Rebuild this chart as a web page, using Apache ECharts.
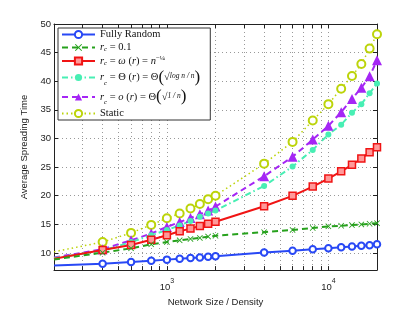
<!DOCTYPE html>
<html><head><meta charset="utf-8">
<script src="https://cdn.jsdelivr.net/npm/echarts@6/dist/echarts.min.js"></script>
<style>html,body{margin:0;padding:0;background:#fff}#c{width:415px;height:312px}</style>
</head><body><div id="c"></div>
<script>
const xValues = [200,400,600,800,1000,1200,1400,1600,1800,2000,4000,6000,8000,10000,12000,14000,16000,18000,20000];
const fullyRandom = [7.8,8.13,8.42,8.64,8.83,8.98,9.1,9.22,9.32,9.42,10.08,10.4,10.66,10.83,10.99,11.12,11.25,11.36,11.52];
const rc01 = [8.85,10.05,10.8,11.5,11.9,12.2,12.45,12.63,12.85,13.0,13.63,14.02,14.36,14.64,14.75,14.87,14.98,15.1,15.2];
const omegaR = [9.0,10.5,11.4,12.3,13.1,13.8,14.25,14.7,15.1,15.45,18.15,19.97,21.6,23.0,24.26,25.4,26.5,27.6,28.45];
const thetaR = [9.1,10.4,11.9,13.1,14.0,14.8,15.6,16.3,16.9,17.4,21.7,25.1,28.0,30.7,32.4,34.5,36.0,37.9,39.6];
const littleO = [9.2,10.65,12.2,13.4,14.55,15.4,16.1,16.75,17.4,18.1,23.4,26.8,29.8,32.2,34.6,36.9,38.85,40.85,43.65];
const staticS = [10.2,11.9,13.5,14.9,16.05,16.9,17.75,18.55,19.4,20.0,25.6,29.4,33.15,36.0,38.7,40.9,43.0,45.7,48.2];
const xTicks = [300,400,500,600,700,800,900,1000,2000,3000,4000,5000,6000,7000,8000,9000,10000];
const xLabelTicks = [1000,10000];
const names = ['Fully Random','r_c = 0.1','r_c = ω(r)','r_c = Θ(r)','r_c = o(r)','Static'];

function mk(vals){
  return xValues.map((x,i)=> i===0 ? {value:[x,vals[i]], symbol:'none'} : [x,vals[i]]);
}
const xSymbol = 'path://M1,0 L5,4 L9,0 L10,1 L6,5 L10,9 L9,10 L5,6 L1,10 L0,9 L4,5 L0,1 Z';

const legendFmt = {
  'Fully Random':'{t|Fully Random}',
  'r_c = 0.1':'{i|r}{sub|c}{t| = 0.1}',
  'r_c = ω(r)':'{i|r}{sub|c}{t| = }{i|ω}{t| (}{i|r}{t|) = }{i|n}{sup|−¼}',
  'r_c = Θ(r)':'{i|r}{sub|c}{t| = Θ (}{i|r}{t|) = Θ}{big|(}{t|√}{fr|log n / n}{big|)}',
  'r_c = o(r)':'{i|r}{sub|c}{t| = }{i|o}{t| (}{i|r}{t|) = Θ}{big|(}{t|√}{fr|1 / n}{big|)}',
  'Static':'{t|Static}'
};

const chart = echarts.init(document.getElementById('c'), null, {renderer:'canvas'});
const axisCol = '#222';
chart.setOption({
  backgroundColor:'#fff',
  animation:false,
  grid:{left:54, right:38, top:24, bottom:35},
  legend:{
    orient:'vertical', left:58, top:28,
    padding:[1,10,1,3], itemGap:2, itemWidth:33, itemHeight:9,
    backgroundColor:'#fff', borderColor:'#333', borderWidth:1,
    data:names,
    formatter:n=>legendFmt[n],
    textStyle:{
      fontFamily:'Liberation Serif', fontSize:10.5, color:'#111',
      rich:{
        t:{fontFamily:'Liberation Serif', fontSize:10.5, lineHeight:11, color:'#111'},
        i:{fontFamily:'Liberation Serif', fontStyle:'italic', fontSize:10.5, lineHeight:11, color:'#111'},
        sub:{fontFamily:'Liberation Serif', fontStyle:'italic', fontSize:7, lineHeight:11, verticalAlign:'bottom', padding:[4,0,0,0], color:'#111'},
        sup:{fontFamily:'Liberation Serif', fontSize:7, lineHeight:11, padding:[0,0,5,0], color:'#111'},
        big:{fontFamily:'Liberation Serif', fontSize:17, lineHeight:18, color:'#111'},
        fr:{fontFamily:'Liberation Serif', fontStyle:'italic', fontSize:7.5, lineHeight:11, padding:[0,0,2,0], color:'#111'}
      }
    }
  },
  xAxis:[{
    type:'log', logBase:10, min:200, max:20000,
    name:'Network Size / Density', nameLocation:'middle', nameGap:19,
    nameTextStyle:{fontFamily:'Liberation Sans', fontSize:9.5, color:'#222'},
    axisLine:{lineStyle:{color:axisCol, width:1}},
    axisTick:{inside:true, length:4, customValues:xTicks, lineStyle:{color:axisCol}},
    axisLabel:{customValues:xLabelTicks, margin:7,
      formatter:v=>'{b|10}{s|'+Math.round(Math.log10(v))+'}',
      rich:{b:{fontFamily:'Liberation Sans', fontSize:9.5, color:'#222', verticalAlign:'bottom', padding:[4,0,0,0]},
            s:{fontFamily:'Liberation Sans', fontSize:7, color:'#222', verticalAlign:'bottom', padding:[0,0,8,0]}}},
    splitLine:{show:true, lineStyle:{color:'#999', type:[1,3], width:1}}
  },{
    type:'log', logBase:10, min:200, max:20000, position:'top',
    axisLine:{show:true, lineStyle:{color:axisCol, width:1}},
    axisTick:{inside:true, length:4, customValues:xTicks, lineStyle:{color:axisCol}},
    axisLabel:{show:false}, splitLine:{show:false}
  }],
  yAxis:[{
    type:'value', min:7, max:50, splitNumber:9,
    name:'Average Spreading Time', nameLocation:'middle', nameGap:15,
    nameTextStyle:{fontFamily:'Liberation Sans', fontSize:9.5, color:'#222'},
    axisLine:{show:true, lineStyle:{color:axisCol, width:1}},
    axisTick:{inside:true, length:4, lineStyle:{color:axisCol}},
    axisLabel:{fontFamily:'Liberation Sans', fontSize:9.5, color:'#222', margin:3,
      formatter:v=> (v%5===0 ? String(v) : '')},
    splitLine:{show:true, lineStyle:{color:'#999', type:[1,3], width:1}}
  },{
    type:'value', min:7, max:50, splitNumber:9, position:'right',
    axisLine:{show:true, lineStyle:{color:axisCol, width:1}},
    axisTick:{inside:true, length:4, lineStyle:{color:axisCol}},
    axisLabel:{show:false}, splitLine:{show:false}
  }],
  series:[
    {name:names[5], type:'line', data:mk(staticS), clip:true,
      lineStyle:{color:'#bcd40a', width:1.5, type:[1.5,3]},
      symbol:'emptyCircle', symbolSize:8,
      itemStyle:{color:'#bcd40a', borderColor:'#bcd40a', borderWidth:2}},
    {name:names[4], type:'line', data:mk(littleO), clip:true,
      lineStyle:{color:'#a526f5', width:2, type:[6,4]},
      symbol:'triangle', symbolSize:10,
      itemStyle:{color:'#a526f5'}},
    {name:names[3], type:'line', data:mk(thetaR), clip:true,
      lineStyle:{color:'#48efb4', width:2, type:[6,3,1.5,3]},
      symbol:'circle', symbolSize:6,
      itemStyle:{color:'#48efb4'}},
    {name:names[2], type:'line', data:mk(omegaR), clip:true,
      lineStyle:{color:'#f01414', width:2},
      symbol:'rect', symbolSize:7,
      itemStyle:{color:'#ff9999', borderColor:'#f01414', borderWidth:1.5}},
    {name:names[1], type:'line', data:mk(rc01), clip:true,
      lineStyle:{color:'#26a11c', width:2, type:[6,4]},
      symbol:xSymbol, symbolSize:6,
      itemStyle:{color:'#26a11c'}},
    {name:names[0], type:'line', data:mk(fullyRandom), clip:true,
      lineStyle:{color:'#2848f5', width:2},
      symbol:'emptyCircle', symbolSize:6.5,
      itemStyle:{color:'#2848f5', borderColor:'#2848f5', borderWidth:1.5}}
  ]
});
</script></body></html>
